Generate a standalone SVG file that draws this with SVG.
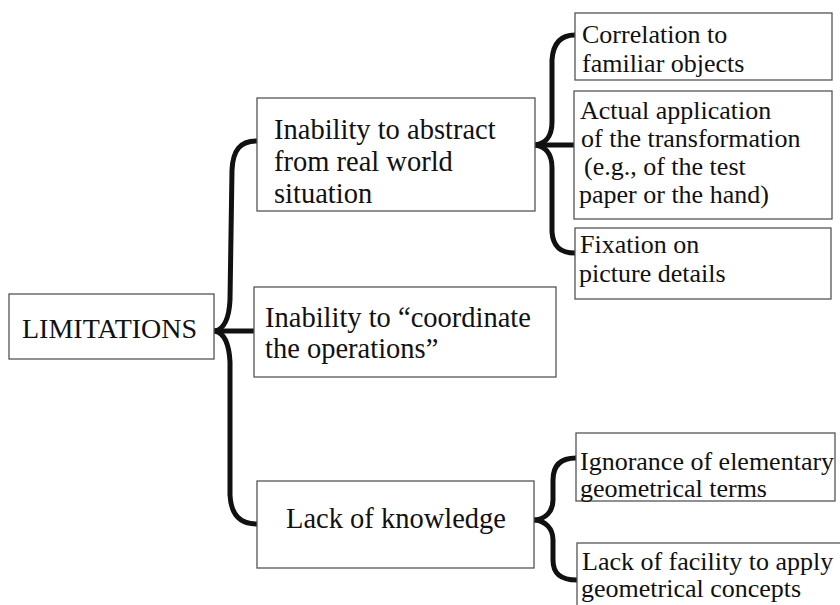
<svg xmlns="http://www.w3.org/2000/svg" width="840" height="605" viewBox="0 0 840 605">
<style>
.box{fill:#fff;stroke:#555;stroke-width:1.3}
text{font-family:'Liberation Serif','Tinos','DejaVu Serif',serif;fill:#111}
.m{font-size:28.5px}
.s{font-size:26px}
.br{fill:none;stroke:#111;stroke-width:5;stroke-linecap:round;stroke-linejoin:round}
</style>
<rect width="840" height="605" fill="#fff"/>
<g id="connectors">
<path class="br" d="M257,141 C240,141 233,150 232,170 L230,300 C229,320 224,329 215,331"/>
<path class="br" d="M215,331 L254,331"/>
<path class="br" d="M215,331 C224,333 229,342 230,362 L230,495 C231,515 240,524 257,524"/>
<path class="br" d="M575,35 C560,35 553,44 552,60 L552,122 C552,138 544,144 535,145"/>
<path class="br" d="M535,145 L574,145"/>
<path class="br" d="M535,145 C544,146 552,152 552,168 L552,232 C553,246 560,253 575,253"/>
<path class="br" d="M576,458 C560,458 553,466 553,480 L553,500 C553,512 545,519 535,520"/>
<path class="br" d="M535,520 C545,521 553,528 553,540 L553,560 C553,573 560,580 577,580"/>
</g>
<g id="limitations">
<rect class="box" x="9" y="294" width="205" height="65"/>
<text x="22" y="338" font-size="28">LIMITATIONS</text>
</g>
<g id="abstract">
<rect class="box" x="257" y="98" width="278" height="113"/>
<text class="m"><tspan x="274" y="139">Inability to abstract</tspan><tspan x="274" y="171">from real world</tspan><tspan x="274" y="203">situation</tspan></text>
</g>
<g id="coordinate">
<rect class="box" x="254" y="287" width="302" height="90"/>
<text class="m"><tspan x="265" y="327">Inability to “coordinate</tspan><tspan x="265" y="358">the operations”</tspan></text>
</g>
<g id="knowledge">
<rect class="box" x="257" y="481" width="277" height="87"/>
<text class="m" x="286" y="528">Lack of knowledge</text>
</g>
<g id="correlation">
<rect class="box" x="575" y="13" width="257" height="67"/>
<text class="s"><tspan x="582" y="43">Correlation to</tspan><tspan x="582" y="72">familiar objects</tspan></text>
</g>
<g id="application">
<rect class="box" x="574" y="91" width="258" height="128"/>
<text class="s"><tspan x="580" y="119">Actual application</tspan><tspan x="581" y="147">of the transformation</tspan><tspan x="584" y="175">(e.g., of the test</tspan><tspan x="579" y="203">paper or the hand)</tspan></text>
</g>
<g id="fixation">
<rect class="box" x="575" y="228" width="256" height="71"/>
<text class="s"><tspan x="580" y="253">Fixation on</tspan><tspan x="579" y="282">picture details</tspan></text>
</g>
<g id="ignorance">
<rect class="box" x="576" y="433" width="259" height="68"/>
<text class="s"><tspan x="580" y="470">Ignorance of elementary</tspan><tspan x="580" y="497">geometrical terms</tspan></text>
</g>
<g id="facility">
<rect class="box" x="577" y="543" width="270" height="70"/>
<text class="s"><tspan x="582" y="570">Lack of facility to apply</tspan><tspan x="581" y="597">geometrical concepts</tspan></text>
</g>
</svg>
